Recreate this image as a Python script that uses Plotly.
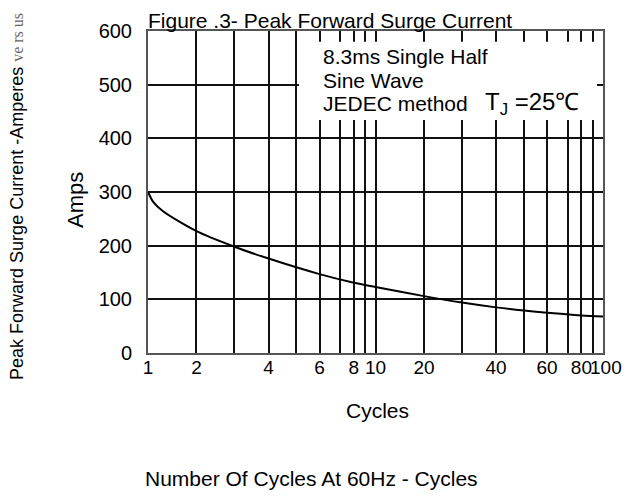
import math
import plotly.graph_objects as go

# ---- data ----
cycles = [1, 1.08, 1.24, 2, 3, 4, 6, 8, 10, 20, 30, 40, 50, 60, 80, 100]
amps = [300, 281, 264, 227, 198, 176, 147, 131, 123, 106, 94, 85, 79, 75, 70, 68]

grid_cycles = [1, 2, 3, 4, 5, 6, 7, 8, 9, 10, 20, 30, 40, 50, 60, 70, 80, 90, 100]
labeled_cycles = [1, 2, 4, 6, 8, 10, 20, 40, 60, 80]
end_label = "100"
y_ticks = [0, 100, 200, 300, 400, 500, 600]

# The chart's hand-drawn cycles scale: where each mantissa 1..10 falls within a decade
decade_fraction = [0.0, 0.213, 0.38, 0.53, 0.652, 0.754, 0.844, 0.905, 0.956, 1.0]


def cycle_scale(c):
    d = math.floor(math.log10(c) + 1e-9)
    m = c / 10 ** d
    if d >= 2:
        return 2.0
    i = int(math.floor(m + 1e-9))
    if i >= 10:
        return d + 1.0
    f0, f1 = decade_fraction[i - 1], decade_fraction[i]
    t = (math.log(m) - math.log(i)) / (math.log(i + 1) - math.log(i))
    return d + f0 + t * (f1 - f0)


xs = [cycle_scale(c) for c in cycles]
tickvals = [cycle_scale(c) for c in grid_cycles]
ticktext = [str(c) if c in labeled_cycles else " " for c in grid_cycles]

FONT = "Liberation Sans, Arial, sans-serif"

# plot area in page pixels (page has an 8px body margin)
PX0, PX1, PY0, PY1 = 148, 603, 27, 353


def px(x):
    return (x - PX0) / (PX1 - PX0)


def py(y):
    return (PY1 - y) / (PY1 - PY0)


fig = go.Figure()
fig.add_trace(go.Scatter(
    x=xs, y=amps, mode="lines",
    line=dict(color="black", width=2, shape="spline", smoothing=0.8),
    hoverinfo="skip", showlegend=False,
))

fig.update_layout(
    width=624, height=489,
    margin=dict(l=PX0 - 8, r=624 - (PX1 - 8), t=PY0 - 8, b=489 - (PY1 - 8)),
    paper_bgcolor="white", plot_bgcolor="white",
    font=dict(family=FONT, color="black", size=20),
    showlegend=False,
)
fig.update_xaxes(
    range=[0, 2], tickmode="array", tickvals=tickvals, ticktext=ticktext,
    tickangle=0,
    showgrid=True, gridcolor="#111", gridwidth=1.5,
    showline=True, linecolor="#555", linewidth=2, mirror=True,
    ticks="", ticklabelstandoff=-4, zeroline=False,
    tickfont=dict(size=19, family=FONT),
)
fig.update_yaxes(
    range=[0, 600], tickmode="array", tickvals=y_ticks,
    showgrid=True, gridcolor="#111", gridwidth=1.5,
    showline=True, linecolor="#555", linewidth=2, mirror=True,
    ticks="", ticklabelstandoff=10, zeroline=False,
    tickfont=dict(size=20, family=FONT),
)

# white background behind the condition text
fig.add_shape(type="rect", xref="x domain", yref="y domain",
              x0=px(299), x1=px(597), y0=py(117), y1=py(38),
              fillcolor="white", line=dict(width=0), layer="above")

ann = []


def add(text, x, y, size, xanchor="left", angle=0, family=FONT):
    ann.append(dict(text=text, xref="paper", yref="paper", x=px(x), y=py(y),
                    xanchor=xanchor, yanchor="middle", showarrow=False,
                    textangle=angle, font=dict(size=size, family=family, color="black")))


add("Figure .3- Peak Forward Surge Current", 146, 16, 21)
add("8.3ms Single Half", 321, 53, 21)
add("Sine Wave", 321, 77, 21)
add("JEDEC method", 321, 100, 21)
add("T<sub>J</sub> =25℃", 483, 100, 24)
add("Amps", 76, 198, 22, xanchor="center", angle=-90)
add("Peak Forward Surge Current -Amperes "
    "<span style='font-family:Liberation Serif, serif;font-size:16px;color:#666'>ve rs us</span>",
    17, 195, 18, xanchor="center", angle=-90)
add(end_label, 606, 368, 19, xanchor="center")
add("Cycles", 377, 411, 21, xanchor="center")
add("Number Of Cycles At 60Hz - Cycles", 311, 480, 21, xanchor="center")
fig.update_layout(annotations=ann)

fig.write_html("out.html")
